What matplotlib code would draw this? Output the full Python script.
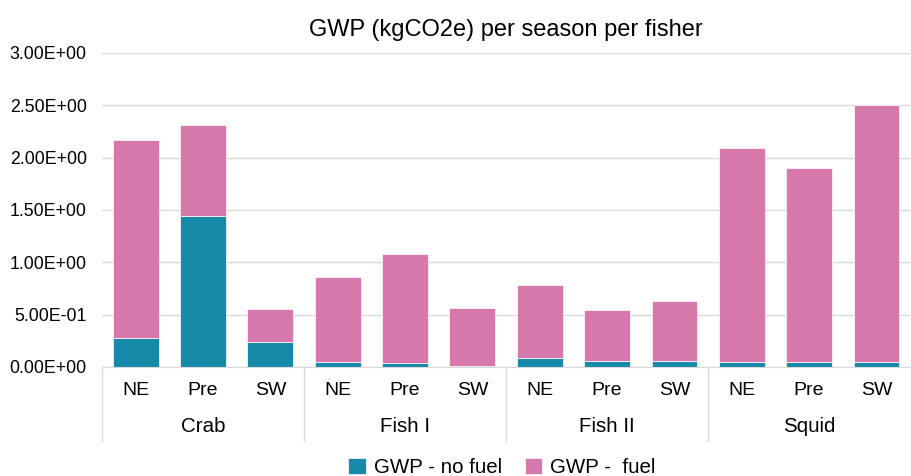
import numpy as np
import matplotlib.pyplot as plt
from matplotlib.transforms import blended_transform_factory

plt.rcParams['font.family'] = ['Liberation Sans', 'DejaVu Sans']

# data
groups = ["Crab", "Fish I", "Fish II", "Squid"]
seasons = ["NE", "Pre", "SW"]
gwp_no_fuel = [0.28, 1.44, 0.24, 0.05, 0.04, 0.01, 0.09, 0.06, 0.055, 0.05, 0.05, 0.05]
gwp_total = [2.17, 2.31, 0.555, 0.86, 1.08, 0.56, 0.78, 0.545, 0.63, 2.09, 1.90, 2.50]
gwp_fuel = [t - n for t, n in zip(gwp_total, gwp_no_fuel)]
yticks = [0, 0.5, 1.0, 1.5, 2.0, 2.5, 3.0]

teal = "#168aa8"
pink = "#d678ab"

fig = plt.figure(figsize=(9.11, 4.76), dpi=100)
ax = fig.add_axes([0.112, 0.229, 0.887, 0.66])

x = np.arange(len(gwp_total))
ax.bar(x, gwp_no_fuel, width=0.68, color=teal, edgecolor="white", linewidth=0.5,
       label="GWP - no fuel", zorder=3)
ax.bar(x, gwp_fuel, width=0.68, bottom=gwp_no_fuel, color=pink, edgecolor="white",
       linewidth=0.5, label="GWP -  fuel", zorder=3)

ax.set_xlim(-0.5, len(x) - 0.5)
ax.set_ylim(0, 3.0)
ax.set_yticks(yticks)
ax.set_yticklabels(["%.2E" % v for v in yticks], fontsize=12.8)
ax.yaxis.grid(True, color="#d9d9d9", linewidth=1, zorder=0)
ax.tick_params(axis="y", length=0, pad=11)
for s in ["left", "right", "top"]:
    ax.spines[s].set_visible(False)
ax.spines["bottom"].set_color("#d9d9d9")
ax.spines["bottom"].set_zorder(4)

ax.set_xticks(x)
ax.set_xticklabels(seasons * len(groups), fontsize=14)
ax.tick_params(axis="x", length=0, pad=11)

# group labels and separators
trans = blended_transform_factory(ax.transData, ax.transAxes)
for i, g in enumerate(groups):
    ax.text(i * 3 + 1, -0.19, g, transform=trans, ha="center", va="center", fontsize=14.8)
    ax.plot([i * 3 - 0.5, i * 3 - 0.5], [0, -0.235], transform=trans, color="#d9d9d9",
            linewidth=1, clip_on=False)

ax.set_title("GWP (kgCO2e) per season per fisher", fontsize=17, pad=12)

ax.legend(loc="lower center", bbox_to_anchor=(0.495, -0.41), ncol=2, frameon=False,
          fontsize=14.8, handlelength=0.85, handleheight=0.85, handletextpad=0.4,
          columnspacing=1.1)

fig.savefig("out.png", dpi=100)
